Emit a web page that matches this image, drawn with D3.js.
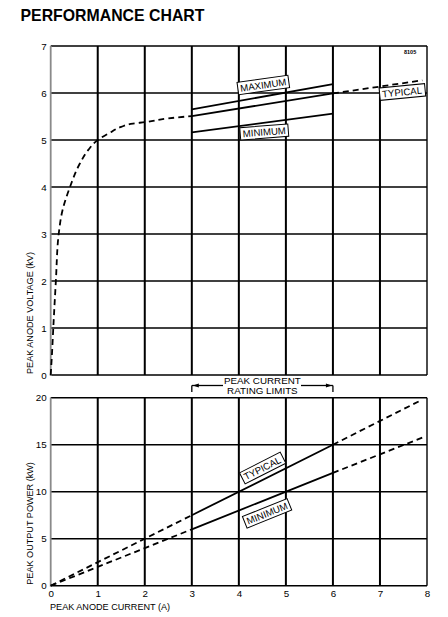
<!DOCTYPE html>
<html>
<head>
<meta charset="utf-8">
<script src="https://cdn.jsdelivr.net/npm/d3@7"></script>
<style>
  body { margin: 0; background: #fff; }
  svg { font-family: "Liberation Sans", Arial, sans-serif; }
</style>
</head>
<body>
<svg id="chart" width="448" height="617"></svg>
<script>
// ---- data ----
const currentTicks = [0, 1, 2, 3, 4, 5, 6, 7, 8]
const voltageTicks = [0, 1, 2, 3, 4, 5, 6, 7]
const powerTicks = [0, 5, 10, 15, 20]

// top chart: peak anode voltage (kV) vs current (A)
const typLowCurrent = [0, 0.03, 0.055, 0.11, 0.17, 0.25, 0.41, 0.62, 0.8, 1.0, 1.25, 1.5, 1.75, 2.0, 2.5, 3.0]
const typLowVoltage = [0, 0.5, 1.0, 2.0, 3.0, 3.5, 4.0, 4.5, 4.79, 5.0, 5.15, 5.28, 5.35, 5.38, 5.46, 5.51]
const typMidCurrent = [3, 6]
const typMidVoltage = [5.51, 5.99]
const typHighCurrent = [6, 7.9]
const typHighVoltage = [5.99, 6.27]
const maxCurrent = [3, 6]
const maxVoltage = [5.65, 6.19]
const minCurrent = [3, 6]
const minVoltage = [5.16, 5.56]

// bottom chart: peak output power (kW) vs current (A)
const powerCurrent = [0, 3, 6, 7.88]
const typPower = [0, 7.5, 15, 19.75]
const minPowerCurrent = [0, 3, 6, 7.95]
const minPower = [0, 6, 12, 15.85]

const svg = d3.select("#chart")
const FONT = 9.8

// scales
const x = d3.scaleLinear().domain([0, 8]).range([50.7, 427])
const yV = d3.scaleLinear().domain([0, 7]).range([375, 46])
const yP = d3.scaleLinear().domain([0, 20]).range([585.7, 397.7])

// title
svg.append("text")
  .attr("x", 20.5).attr("y", 20.5)
  .attr("font-size", 16.5).attr("font-weight", "bold")
  .attr("textLength", 184).attr("lengthAdjust", "spacingAndGlyphs")
  .text("PERFORMANCE CHART")

svg.append("text")
  .attr("x", 404).attr("y", 54)
  .attr("font-size", 5.5).attr("font-weight", "bold")
  .text("8105")

function drawFrame(yScale, ticks) {
  const g = svg.append("g")
  const [y0, y1] = yScale.range()
  // horizontal grid lines
  g.selectAll("line.h").data(ticks.slice(1)).join("line")
    .attr("x1", x(0)).attr("x2", x(8))
    .attr("y1", d => yScale(d)).attr("y2", d => yScale(d))
    .attr("stroke", "#000").attr("stroke-width", 1.4)
  // vertical grid lines
  g.selectAll("line.v").data(currentTicks.slice(1)).join("line")
    .attr("x1", d => x(d)).attr("x2", d => x(d))
    .attr("y1", y0).attr("y2", y1)
    .attr("stroke", "#000").attr("stroke-width", d => d === 8 ? 1.4 : 2)
  // bottom line
  g.append("line")
    .attr("x1", x(0)).attr("x2", x(8)).attr("y1", y0).attr("y2", y0)
    .attr("stroke", "#000").attr("stroke-width", 1.6)
  // left axis line is grey in the original
  g.append("line")
    .attr("x1", x(0)).attr("x2", x(0)).attr("y1", y0 + 1).attr("y2", y1)
    .attr("stroke", "#8a8a8a").attr("stroke-width", 1.8)

  const axis = svg.append("g")
    .attr("transform", `translate(${x(0) - 3},0)`)
    .call(d3.axisLeft(yScale).tickValues(ticks).tickSize(0).tickPadding(1).tickFormat(d3.format("d")))
  axis.select(".domain").remove()
  axis.selectAll("text").attr("font-size", FONT).attr("fill", "#000")
    .attr("font-family", "Liberation Sans, Arial, sans-serif")
}

drawFrame(yV, voltageTicks)
drawFrame(yP, powerTicks)

// x axis labels
const xAxis = svg.append("g")
  .attr("transform", `translate(0,${yP(0) + 1})`)
  .call(d3.axisBottom(x).tickValues(currentTicks).tickSize(0).tickPadding(3))
xAxis.select(".domain").remove()
xAxis.selectAll("text").attr("font-size", FONT).attr("fill", "#000")
  .attr("font-family", "Liberation Sans, Arial, sans-serif")

svg.append("text")
  .attr("x", 50).attr("y", 609.5)
  .attr("font-size", 9.1)
  .text("PEAK ANODE CURRENT (A)")

svg.append("text")
  .attr("transform", `translate(33,${yV(0) - 1}) rotate(-90)`)
  .attr("font-size", 9.1)
  .text("PEAK ANODE VOLTAGE (kV)")

svg.append("text")
  .attr("transform", `translate(33,${yP(0) - 1}) rotate(-90)`)
  .attr("font-size", 9.1)
  .text("PEAK OUTPUT POWER (kW)")

// curves
function curve(xs, ys, yScale, dashed, isCurve) {
  const pts = xs.map((d, i) => [d, ys[i]])
  const line = d3.line()
    .x(d => x(d[0])).y(d => yScale(d[1]))
    .curve(isCurve ? d3.curveMonotoneY : d3.curveLinear)
  svg.append("path")
    .attr("d", line(pts))
    .attr("fill", "none")
    .attr("stroke", "#000")
    .attr("stroke-width", 1.8)
    .attr("stroke-dasharray", dashed ? "6,4" : null)
}

curve(typLowCurrent, typLowVoltage, yV, true, true)
curve(typMidCurrent, typMidVoltage, yV, false)
curve(typHighCurrent, typHighVoltage, yV, true)
curve(maxCurrent, maxVoltage, yV, false)
curve(minCurrent, minVoltage, yV, false)

// power lines: dashed below 3 A and above 6 A, solid in between
curve(powerCurrent.slice(0, 2), typPower.slice(0, 2), yP, true)
curve(powerCurrent.slice(1, 3), typPower.slice(1, 3), yP, false)
curve(powerCurrent.slice(2), typPower.slice(2), yP, true)
curve(minPowerCurrent.slice(0, 2), minPower.slice(0, 2), yP, true)
curve(minPowerCurrent.slice(1, 3), minPower.slice(1, 3), yP, false)
curve(minPowerCurrent.slice(2), minPower.slice(2), yP, true)

// boxed labels
function boxLabel(text, cx, cy, angle) {
  const g = svg.append("g").attr("transform", `translate(${cx},${cy}) rotate(${angle})`)
  const rect = g.append("rect")
  const t = g.append("text")
    .attr("text-anchor", "middle").attr("dy", "0.36em")
    .attr("font-size", 9.6)
    .text(text)
  const b = t.node().getBBox()
  rect.attr("x", b.x - 2.5).attr("y", -6.2)
    .attr("width", b.width + 5).attr("height", 12.4)
    .attr("fill", "#fff").attr("stroke", "#000").attr("stroke-width", 1)
}

boxLabel("MAXIMUM", x(4.52), yV(6.17), -8)
boxLabel("MINIMUM", x(4.54), yV(5.17), -4.5)
boxLabel("TYPICAL", x(7.47), yV(6.02), -5.5)
boxLabel("TYPICAL", x(4.5), yP(12.5), -27)
boxLabel("MINIMUM", x(4.6), yP(7.7), -22)

// peak current rating limits bracket
const bY = 385.5
const bracket = svg.append("g").attr("stroke", "#000").attr("stroke-width", 1.3)
bracket.append("line").attr("x1", x(3)).attr("x2", x(3)).attr("y1", bY).attr("y2", bY + 6.5)
bracket.append("line").attr("x1", x(6)).attr("x2", x(6)).attr("y1", bY).attr("y2", bY + 6.5)
bracket.append("line").attr("x1", x(3)).attr("x2", 223).attr("y1", bY).attr("y2", bY)
bracket.append("line").attr("x1", 301).attr("x2", x(6)).attr("y1", bY).attr("y2", bY)
svg.append("path")
  .attr("d", `M${x(3) + 1},${bY} l6,-2 v4 z M${x(6) - 1},${bY} l-6,-2 v4 z`)
  .attr("fill", "#000")
svg.append("text")
  .attr("x", x(4.5)).attr("y", 383.5).attr("text-anchor", "middle")
  .attr("font-size", 9.8).text("PEAK CURRENT")
svg.append("text")
  .attr("x", x(4.5)).attr("y", 394).attr("text-anchor", "middle")
  .attr("font-size", 9.8).text("RATING LIMITS")
</script>
</body>
</html>
